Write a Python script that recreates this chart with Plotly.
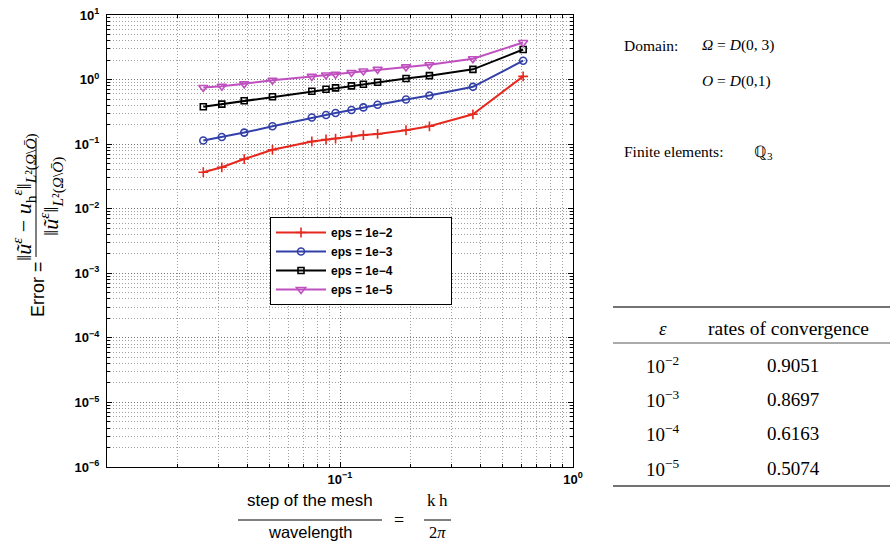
import plotly.graph_objects as go

# ---------------- data ----------------
h_over_lambda = [0.0259, 0.0311, 0.0388, 0.0513, 0.0757, 0.0871, 0.0957, 0.112,
                 0.126, 0.145, 0.192, 0.242, 0.372, 0.611]
err_eps_1e2 = [0.0367, 0.0438, 0.0588, 0.0817, 0.110, 0.118, 0.122, 0.131,
               0.138, 0.144, 0.164, 0.189, 0.290, 1.12]
err_eps_1e3 = [0.114, 0.129, 0.151, 0.189, 0.258, 0.282, 0.303, 0.337,
               0.371, 0.408, 0.492, 0.568, 0.772, 1.96]
err_eps_1e4 = [0.380, 0.417, 0.470, 0.542, 0.661, 0.709, 0.745, 0.800,
               0.847, 0.909, 1.04, 1.15, 1.44, 2.92]
err_eps_1e5 = [0.753, 0.789, 0.859, 0.976, 1.12, 1.18, 1.21, 1.29,
               1.36, 1.44, 1.57, 1.70, 2.10, 3.75]
series_names = ["eps = 1e\u22122", "eps = 1e\u22123", "eps = 1e\u22124", "eps = 1e\u22125"]

y_tickvals = [1e-6, 1e-5, 1e-4, 1e-3, 1e-2, 1e-1, 1e0, 1e1]
y_ticktext = ["10<sup>\u22126</sup>", "10<sup>\u22125</sup>", "10<sup>\u22124</sup>",
              "10<sup>\u22123</sup>", "10<sup>\u22122</sup>", "10<sup>\u22121</sup>",
              "10<sup>0</sup>", "10<sup>1</sup>"]
x_tickvals = [1e-2, 1e-1, 1e0]
x_ticktext = ["", "10<sup>\u22121</sup>", "10<sup>0</sup>"]

table_eps = ["10<sup>\u22122</sup>", "10<sup>\u22123</sup>", "10<sup>\u22124</sup>", "10<sup>\u22125</sup>"]
table_rates = ["0.9051", "0.8697", "0.6163", "0.5074"]

# ---------------- figure ----------------
W, H = 891, 543
L, R, T, B = 107, 573, 15, 467


def px(x):
    return (x - L) / (R - L)


def py(y):
    return (B - y) / (B - T)


styles = [
    dict(color="#e6281e", symbol="cross-thin-open", size=7),
    dict(color="#3340a8", symbol="circle-open", size=7),
    dict(color="#000000", symbol="square-open", size=6),
    dict(color="#c050c0", symbol="triangle-down-open", size=8),
]
all_series = [err_eps_1e2, err_eps_1e3, err_eps_1e4, err_eps_1e5]

fig = go.Figure()
pad = "\u00a0" * 16
for name, ys, st in zip(series_names, all_series, styles):
    fig.add_trace(go.Scatter(
        x=h_over_lambda, y=ys, name=name + pad, mode="lines+markers",
        line=dict(color=st["color"], width=2),
        marker=dict(symbol=st["symbol"], size=st["size"], color=st["color"],
                    line=dict(color=st["color"], width=1.6)),
    ))

axis_common = dict(
    type="log", showline=True, linecolor="black", linewidth=1, mirror="allticks",
    ticks="inside", ticklen=5, tickcolor="black", automargin=False,
    showgrid=True, gridcolor="#777777", griddash="1px,2px", gridwidth=1,
    zeroline=False,
    tickfont=dict(family="Arial, Liberation Sans", size=13, color="black", weight="bold"),
    minor=dict(ticks="inside", ticklen=3, tickcolor="black", dtick="D1",
               showgrid=True, gridcolor="#a0a0a0", griddash="1px,2px", gridwidth=1),
)
fig.update_xaxes(range=[-2, 0], tickmode="array", tickvals=x_tickvals,
                 ticktext=x_ticktext, **axis_common)
fig.update_yaxes(range=[-6, 1], tickmode="array", tickvals=y_tickvals,
                 ticktext=y_ticktext, ticklabelstandoff=4, **axis_common)

fig.update_layout(
    width=W, height=H,
    margin=dict(l=L, r=W - R, t=T, b=H - B, pad=0, autoexpand=False),
    paper_bgcolor="white", plot_bgcolor="white",
    showlegend=True,
    legend=dict(x=px(270), y=py(217), xanchor="left", yanchor="top",
                bgcolor="white", bordercolor="black", borderwidth=1,
                font=dict(family="Arial, Liberation Sans", size=12, color="black", weight="bold"),
                itemwidth=50, tracegroupgap=0),
)

ann = []
shapes = []

serif = "Liberation Serif, Times New Roman, serif"
sans = "Arial, Liberation Sans, sans-serif"


def text(x, y, s, size=15, family=serif, anchor="center", angle=0, color="black"):
    ann.append(dict(x=px(x), y=py(y), xref="paper", yref="paper", text=s,
                    showarrow=False, xanchor=anchor, yanchor="middle",
                    textangle=angle, font=dict(family=family, size=size, color=color)))


def hline(x0, x1, y, width=1, color="black"):
    shapes.append(dict(type="line", xref="paper", yref="paper",
                       x0=px(x0), x1=px(x1), y0=py(y), y1=py(y),
                       line=dict(color=color, width=width)))


def vline(x, y0, y1, width=1, color="black"):
    shapes.append(dict(type="line", xref="paper", yref="paper",
                       x0=px(x), x1=px(x), y0=py(y0), y1=py(y1),
                       line=dict(color=color, width=width)))


# y-axis title (rotated)
text(38, 289, "Error =", size=18, family=sans, angle=-90)
text(24, 197, "\u2016<i>\u0169</i><sup><i>\u03b5</i></sup> \u2212 <i>u</i><sub>h</sub><sup><i>\u03b5</i></sup>\u2016"
              "<sub><i>L</i>\u00b2(<i>\u03a9</i>\\<i>\u014c</i>)</sub>", size=22, angle=-90)
vline(36, 138, 257)
text(51, 197, "\u2016<i>\u0169</i><sup><i>\u03b5</i></sup>\u2016"
              "<sub><i>L</i>\u00b2(<i>\u03a9</i>\\<i>\u014c</i>)</sub>", size=22, angle=-90)

# x-axis title
text(310, 500, "step of the mesh", size=17, family=sans)
hline(238, 382, 520)
text(310, 532, "wavelength", size=16.5, family=sans)
text(399, 520, "=", size=18)
text(437, 500, "k\u2009h", size=17)
hline(424, 451, 520)
text(437, 532, "2<i>\u03c0</i>", size=16.5)

# side annotations
text(622, 45, "Domain:", size=15.5, anchor="left")
text(700, 45, "<i>\u03a9</i> = <i>D</i>(0, 3)", size=15.5, anchor="left")
text(700, 81, "<i>O</i> = <i>D</i>(0,1)", size=15.5, anchor="left")
text(622, 151, "Finite elements:", size=15.5, anchor="left")
text(752, 152, "\u211a<sub>3</sub>", size=16, anchor="left")

# table
hline(613, 890, 307, width=1.3, color="#444")
hline(613, 890, 343, width=0.9, color="#444")
hline(613, 890, 486, width=1.3, color="#444")
text(663, 328, "<i>\u03b5</i>", size=19)
text(788, 328, "rates of convergence", size=19.5)
row_y = [365, 399, 433, 468]
for yy, e, r in zip(row_y, table_eps, table_rates):
    text(662, yy, e, size=19)
    text(793, yy, r, size=19)

fig.update_layout(annotations=ann, shapes=shapes)
fig.write_html("out.html", config={"displayModeBar": False},
               post_script="document.body.style.margin='0';document.body.style.overflow='hidden';")
